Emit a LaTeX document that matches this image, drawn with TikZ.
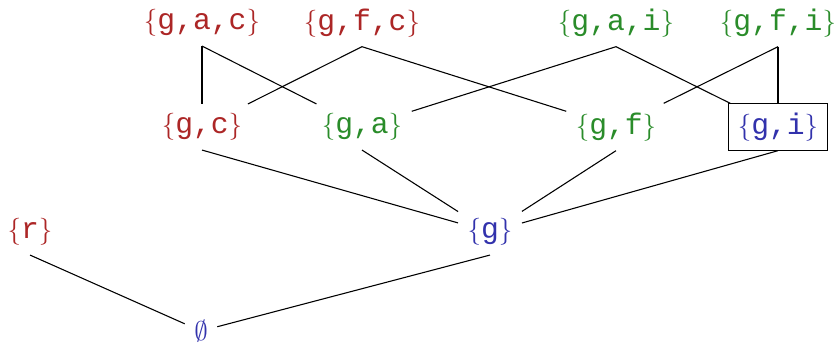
\documentclass[tikz,border=0pt]{standalone}
\usepackage{fontspec}
\setmonofont{Liberation Mono}
\definecolor{setred}{RGB}{172,38,38}
\definecolor{setgreen}{RGB}{42,140,42}
\definecolor{setblue}{RGB}{50,50,172}
\newcommand{\setof}[1]{$\{$\texttt{\fontsize{11}{12}\selectfont #1}$\}$}
\begin{document}
\begin{tikzpicture}[x=0.37037pt,y=-0.37037pt,
  setnode/.style={font=\fontsize{10}{12}\selectfont, inner sep=0.3333em},
  rset/.style={setnode, text=setred},
  gset/.style={setnode, text=setgreen},
  bset/.style={setnode, text=setblue},
  boxed/.style={draw=black, line width=0.4pt},
  edge/.style={draw=black, line width=0.4pt}]
\useasboundingbox (0,0) rectangle (835,342);
\node[rset] (gac) at (202,23) {\setof{g,a,c}};
\node[rset] (gfc) at (362,23) {\setof{g,f,c}};
\node[gset] (gai) at (616,23) {\setof{g,a,i}};
\node[gset] (gfi) at (778,23) {\setof{g,f,i}};
\node[rset] (gc) at (202,127) {\setof{g,c}};
\node[gset] (ga) at (362,127) {\setof{g,a}};
\node[gset] (gf) at (616,127) {\setof{g,f}};
\node[bset, boxed] (gi) at (778,127) {\setof{g,i}};
\node[bset] (g) at (490,232) {\setof{g}};
\node[rset] (r) at (30,232) {\setof{r}};
\node[bset] (e) at (201,331) {$\emptyset$};
\draw[edge] (gac.south) -- (gc);
\draw[edge] (gac.south) -- (ga);
\draw[edge] (gfc.south) -- (gc);
\draw[edge] (gfc.south) -- (gf);
\draw[edge] (gai.south) -- (ga);
\draw[edge] (gai.south) -- (gi);
\draw[edge] (gfi.south) -- (gf);
\draw[edge] (gfi.south) -- (gi);
\draw[edge] (gc.south) -- (g);
\draw[edge] (ga.south) -- (g);
\draw[edge] (gf.south) -- (g);
\draw[edge] (gi.south) -- (g);
\draw[edge] (r.south) -- (e);
\draw[edge] (g.south) -- (e);
\end{tikzpicture}
\end{document}
